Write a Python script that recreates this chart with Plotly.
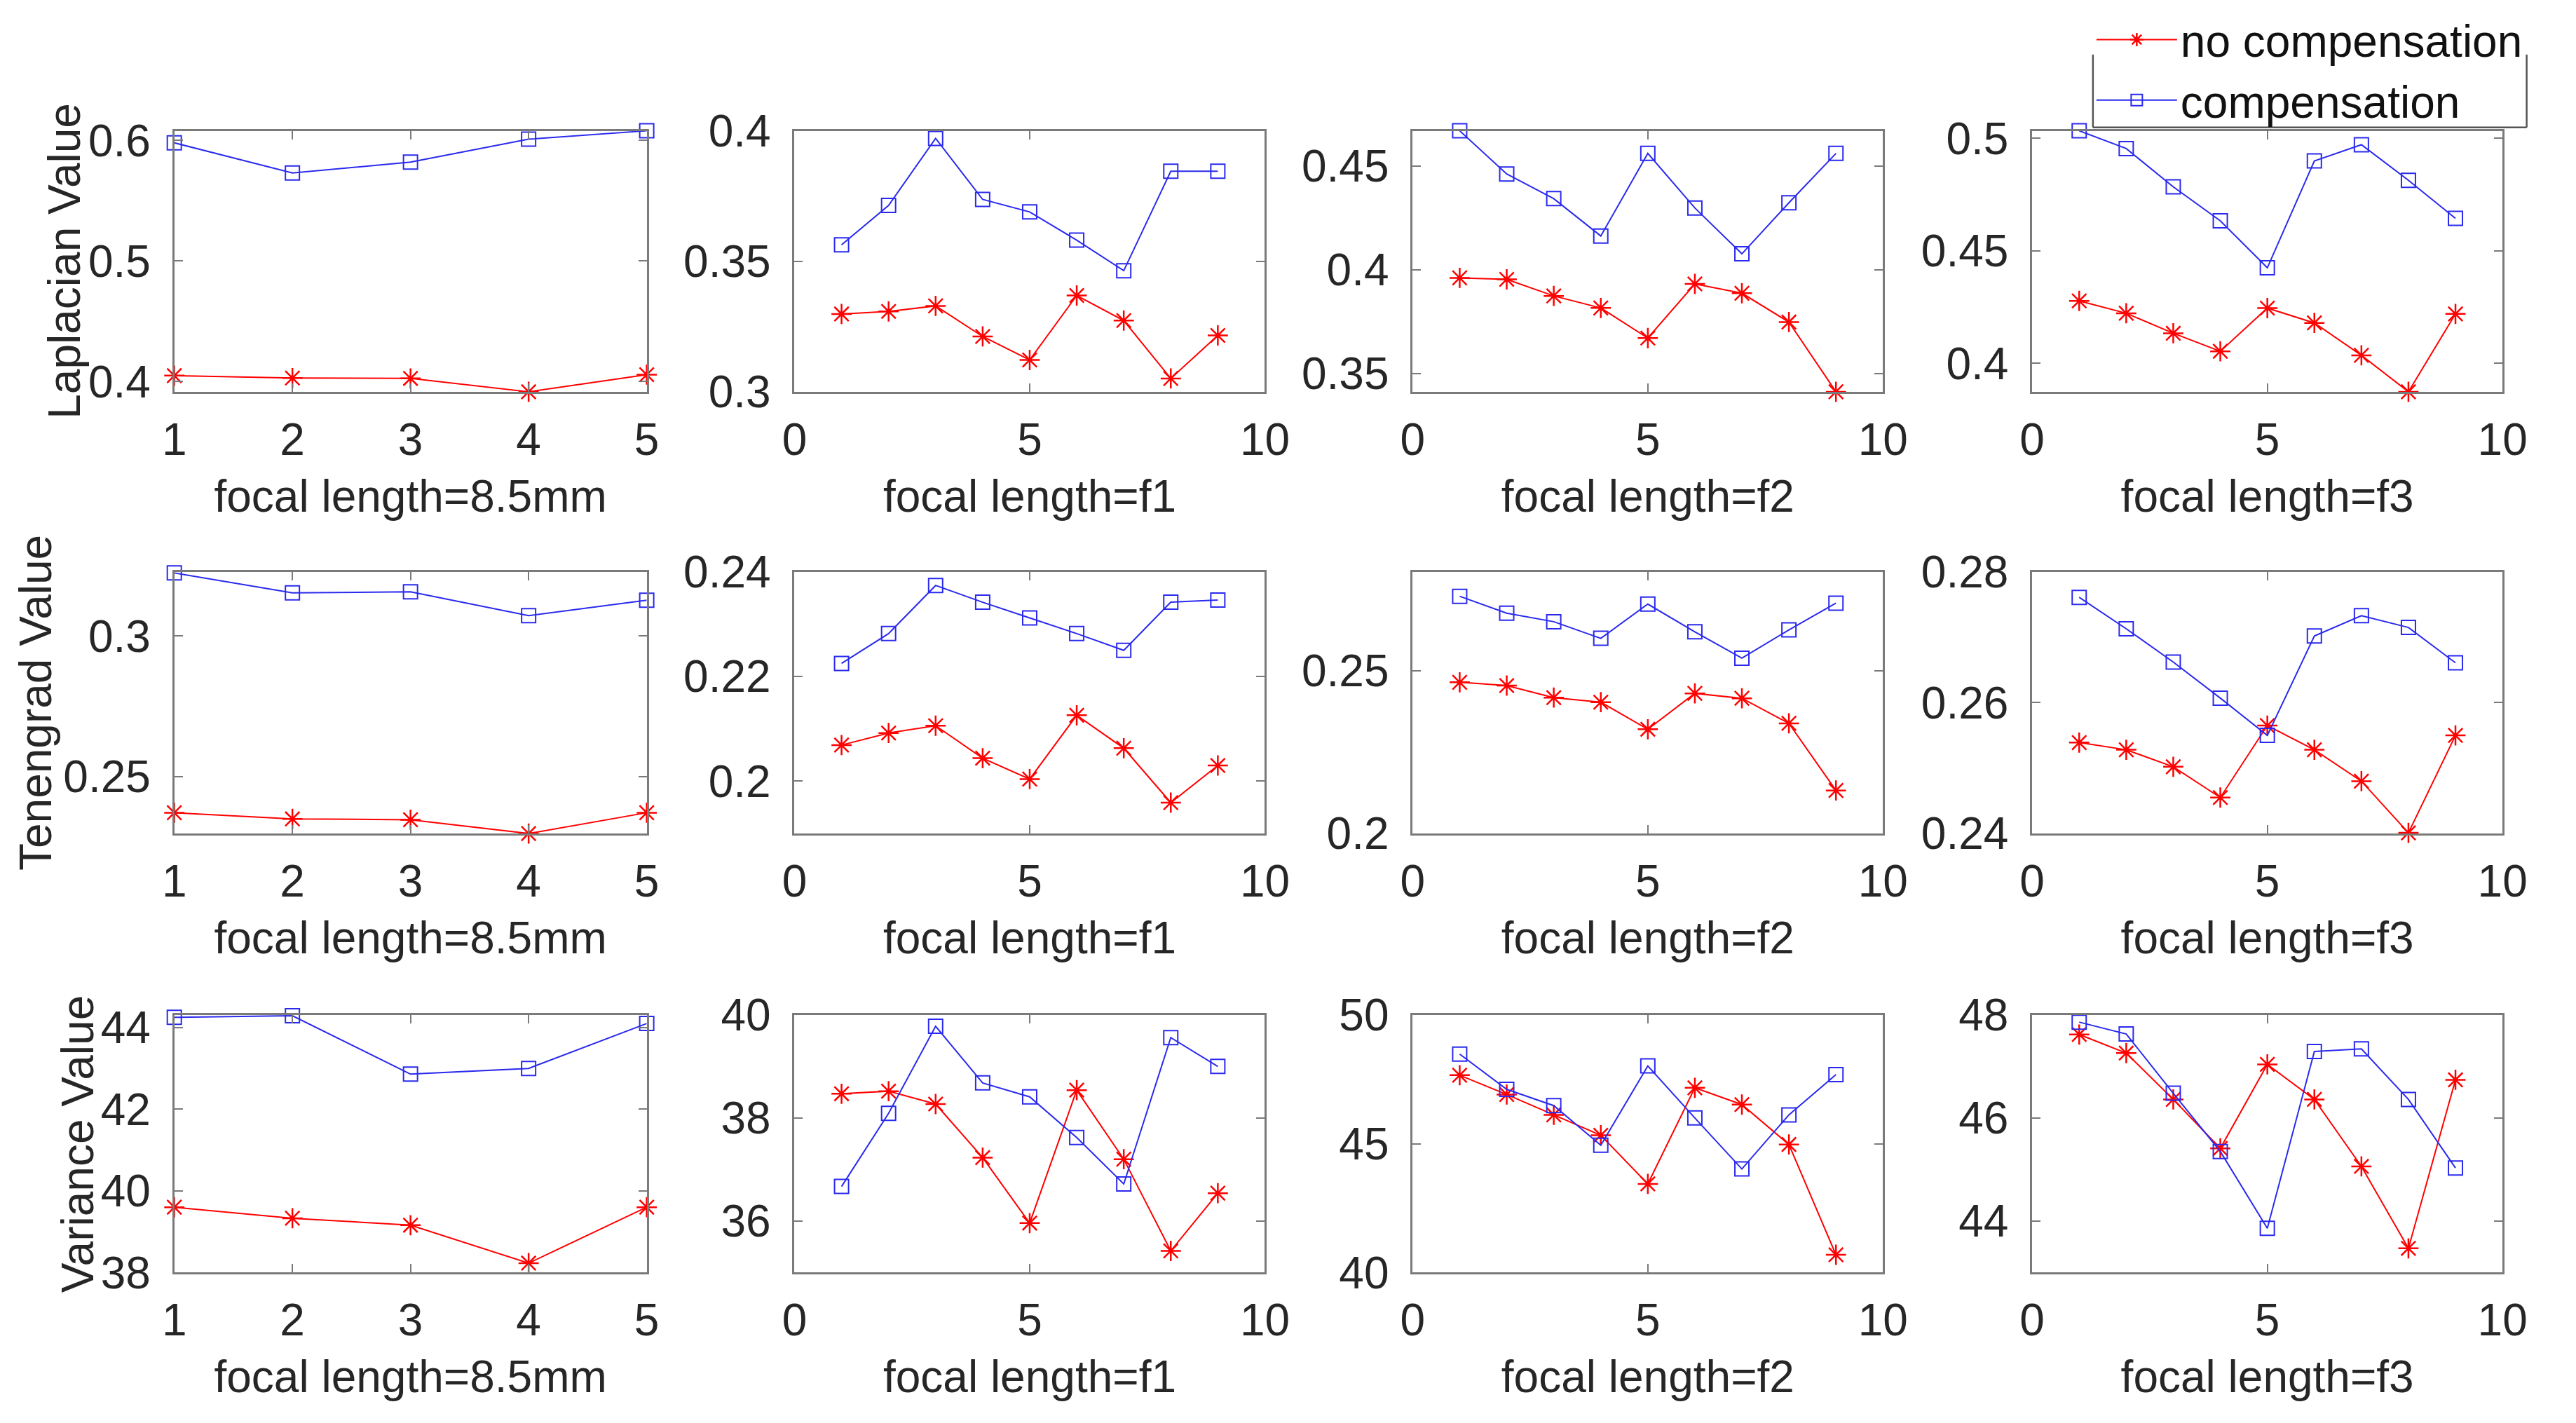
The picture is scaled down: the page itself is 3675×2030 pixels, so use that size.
import plotly.graph_objects as go

# ---------------- data ----------------
x_85 = [1, 2, 3, 4, 5]
x_f = [1, 2, 3, 4, 5, 6, 7, 8, 9]

series_names = ["no compensation", "compensation"]
row_titles = ["Laplacian Value", "Tenengrad Value", "Variance Value"]
col_titles = ["focal length=8.5mm", "focal length=f1", "focal length=f2", "focal length=f3"]

# Laplacian
lap_85_no = [0.405, 0.403, 0.4027, 0.3916, 0.4058]
lap_85_comp = [0.598, 0.573, 0.582, 0.601, 0.608]
lap_f1_no = [0.3298, 0.3308, 0.3329, 0.3212, 0.3122, 0.3369, 0.3273, 0.3051, 0.3216]
lap_f1_comp = [0.3563, 0.3714, 0.3971, 0.3737, 0.3689, 0.3581, 0.3464, 0.3845, 0.3845]
lap_f2_no = [0.3961, 0.3954, 0.3874, 0.3816, 0.3671, 0.3932, 0.3887, 0.3748, 0.3412]
lap_f2_comp = [0.467, 0.4462, 0.4343, 0.4163, 0.4561, 0.4298, 0.4077, 0.4323, 0.4561]
lap_f3_no = [0.4277, 0.4222, 0.4133, 0.4053, 0.4245, 0.4179, 0.4035, 0.3873, 0.4219]
lap_f3_comp = [0.5033, 0.4954, 0.4784, 0.4633, 0.4424, 0.4899, 0.4971, 0.4813, 0.4644]

# Tenengrad
ten_85_no = [0.2371, 0.2349, 0.2346, 0.2297, 0.2371]
ten_85_comp = [0.3224, 0.3153, 0.3157, 0.3072, 0.3127]
ten_f1_no = [0.2069, 0.2092, 0.2106, 0.2044, 0.2004, 0.2126, 0.2063, 0.1959, 0.2030]
ten_f1_comp = [0.2225, 0.2282, 0.2374, 0.2342, 0.2312, 0.2282, 0.2250, 0.2342, 0.2346]
ten_f2_no = [0.2464, 0.2454, 0.2417, 0.2403, 0.2320, 0.2430, 0.2415, 0.2338, 0.2132]
ten_f2_comp = [0.2728, 0.2676, 0.2650, 0.2599, 0.2704, 0.2619, 0.2538, 0.2625, 0.2707]
ten_f3_no = [0.2539, 0.2528, 0.2502, 0.2455, 0.2565, 0.2528, 0.2480, 0.2401, 0.2550]
ten_f3_comp = [0.2761, 0.2713, 0.2662, 0.2607, 0.2550, 0.2702, 0.2733, 0.2715, 0.2661]

# Variance
var_85_no = [39.60, 39.33, 39.16, 38.23, 39.60]
var_85_comp = [44.25, 44.29, 42.86, 43.00, 44.10]
var_f1_no = [38.47, 38.52, 38.27, 37.23, 35.96, 38.54, 37.20, 35.42, 36.54]
var_f1_comp = [36.67, 38.09, 39.78, 38.68, 38.41, 37.62, 36.72, 39.56, 39.00]
var_f2_no = [47.66, 46.91, 46.12, 45.33, 43.44, 47.17, 46.52, 44.97, 40.69]
var_f2_comp = [48.48, 47.11, 46.48, 44.94, 48.02, 46.00, 44.02, 46.12, 47.68]
var_f3_no = [47.62, 47.26, 46.36, 45.41, 47.04, 46.36, 45.06, 43.47, 46.74]
var_f3_comp = [47.86, 47.63, 46.48, 45.35, 43.86, 47.29, 47.34, 46.36, 45.03]

# axis limits and ticks
x_ticks_85 = [1, 2, 3, 4, 5]
x_ticks_f = [0, 5, 10]
y_limits = [
    [[0.3916, 0.608], [0.3, 0.4], [0.3412, 0.467], [0.3873, 0.5033]],
    [[0.2297, 0.3228], [0.19, 0.24], [0.2, 0.2803], [0.24, 0.28]],
    [[38.0, 44.31], [35.0, 40.0], [40.0, 50.0], [43.0, 48.0]],
]
y_ticks = [
    [[0.4, 0.5, 0.6], [0.3, 0.35, 0.4], [0.35, 0.4, 0.45], [0.4, 0.45, 0.5]],
    [[0.25, 0.3], [0.2, 0.22, 0.24], [0.2, 0.25], [0.24, 0.26, 0.28]],
    [[38, 40, 42, 44], [36, 38, 40], [40, 45, 50], [44, 46, 48]],
]
y_ticktext = [
    [["0.4", "0.5", "0.6"], ["0.3", "0.35", "0.4"], ["0.35", "0.4", "0.45"], ["0.4", "0.45", "0.5"]],
    [["0.25", "0.3"], ["0.2", "0.22", "0.24"], ["0.2", "0.25"], ["0.24", "0.26", "0.28"]],
    [["38", "40", "42", "44"], ["36", "38", "40"], ["40", "45", "50"], ["44", "46", "48"]],
]

panels = [
    [(lap_85_no, lap_85_comp), (lap_f1_no, lap_f1_comp), (lap_f2_no, lap_f2_comp), (lap_f3_no, lap_f3_comp)],
    [(ten_85_no, ten_85_comp), (ten_f1_no, ten_f1_comp), (ten_f2_no, ten_f2_comp), (ten_f3_no, ten_f3_comp)],
    [(var_85_no, var_85_comp), (var_f1_no, var_f1_comp), (var_f2_no, var_f2_comp), (var_f3_no, var_f3_comp)],
]

# ---------------- layout geometry ----------------
W, H = 3675, 2030
col_px = [(226, 910), (1124, 1805), (2019, 2700), (2916, 3597)]
row_px = [(143, 530), (797, 1185), (1454, 1836)]
row_title_x = [67, 26, 86]

FONT = "Liberation Sans, Arial, Helvetica, sans-serif"
FS = 64
TXT = "#262626"
AX = "#7a7a7a"
RED = "#ff0000"
BLUE = "#2a2aee"

fig = go.Figure()
layout = {}
annotations = []

k = 0
for r in range(3):
    for c in range(4):
        k += 1
        xa = "x" if k == 1 else f"x{k}"
        ya = "y" if k == 1 else f"y{k}"
        xs = x_85 if c == 0 else x_f
        no_vals, comp_vals = panels[r][c]
        fig.add_trace(go.Scatter(
            x=xs, y=no_vals, mode="lines+markers", name=series_names[0],
            line=dict(color=RED, width=2),
            marker=dict(symbol="asterisk-open", size=24, line=dict(color=RED, width=2.5)),
            xaxis=xa, yaxis=ya, cliponaxis=False, showlegend=(k == 1),
        ))
        fig.add_trace(go.Scatter(
            x=xs, y=comp_vals, mode="lines+markers", name=series_names[1],
            line=dict(color=BLUE, width=2),
            marker=dict(symbol="square-open", size=20, color=BLUE, line=dict(color=BLUE, width=2)),
            xaxis=xa, yaxis=ya, cliponaxis=False, showlegend=(k == 1),
        ))
        x0, x1 = col_px[c]
        y0, y1 = row_px[r]
        xkey = "xaxis" if k == 1 else f"xaxis{k}"
        ykey = "yaxis" if k == 1 else f"yaxis{k}"
        common = dict(
            showline=True, linecolor=AX, linewidth=3, mirror="ticks",
            ticks="inside", ticklen=12, tickwidth=2, tickcolor=AX,
            showgrid=False, zeroline=False,
            tickfont=dict(family=FONT, size=FS, color=TXT),
        )
        layout[xkey] = dict(
            domain=[x0 / W, x1 / W], anchor=ya,
            range=[1, 5] if c == 0 else [0, 10],
            tickvals=x_ticks_85 if c == 0 else x_ticks_f,
            ticktext=[str(v) for v in (x_ticks_85 if c == 0 else x_ticks_f)],
            ticklabelstandoff=10,
            title=dict(text=col_titles[c], font=dict(family=FONT, size=FS, color=TXT), standoff=24),
            **common,
        )
        layout[ykey] = dict(
            domain=[1 - y1 / H, 1 - y0 / H], anchor=xa,
            range=y_limits[r][c],
            tickvals=y_ticks[r][c], ticktext=y_ticktext[r][c],
            ticklabelstandoff=18,
            **common,
        )
    # row title (y-axis label of first column)
    y0, y1 = row_px[r]
    annotations.append(dict(
        text=row_titles[r], xref="paper", yref="paper",
        x=row_title_x[r] / W, y=1 - (y0 + y1) / 2 / H,
        xanchor="center", yanchor="middle", textangle=-90, showarrow=False,
        font=dict(family=FONT, size=FS, color=TXT),
    ))

# legend frame (top edge cut off as in the original)
lx0, lx1, ly_top, ly_bot = 3004, 3632, 30, 138
frame_lines = [
    (lx0, ly_top, lx0, ly_bot),
    (lx0, ly_bot, lx1, ly_bot),
    (lx1, ly_bot, lx1, ly_top),
]
shapes = [dict(
    type="line", xref="paper", yref="paper", layer="above",
    x0=a / W, y0=1 - b / H, x1=cx / W, y1=1 - d / H,
    line=dict(color="#555555", width=2.5),
) for (a, b, cx, d) in frame_lines]

fig.update_layout(
    width=W, height=H,
    margin=dict(l=0, r=0, t=0, b=0),
    paper_bgcolor="white", plot_bgcolor="white",
    font=dict(family=FONT, size=FS, color=TXT),
    showlegend=True,
    legend=dict(
        x=lx0 / W, xanchor="left", y=1 - 148 / H, yanchor="bottom",
        bgcolor="rgba(0,0,0,0)", borderwidth=0,
        font=dict(family=FONT, size=FS, color="#111111"),
        itemwidth=115, tracegroupgap=0,
    ),
    annotations=annotations,
    shapes=shapes,
    **layout,
)

fig.write_html("out.html")
